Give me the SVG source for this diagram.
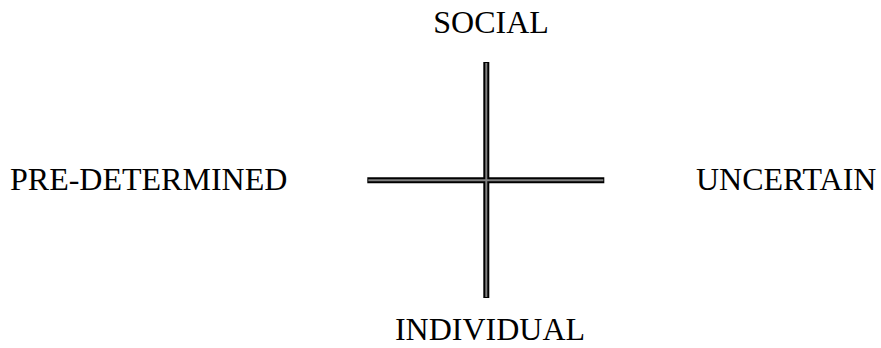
<svg xmlns="http://www.w3.org/2000/svg" width="881" height="348" viewBox="0 0 881 348">
<style>
.lbl{font-family:"Liberation Serif","Times New Roman",serif;font-size:32px;fill:#000}
.outer{stroke:#000;stroke-width:6;fill:none}
.inner{stroke:#808080;stroke-width:2;fill:none}
</style>
<rect width="881" height="348" fill="#fff"/>
<g id="connectors">
<line class="outer" x1="486.3" y1="62" x2="486.3" y2="298"/>
<line class="outer" x1="367.3" y1="180.3" x2="604.3" y2="180.3"/>
<line class="inner" x1="486.3" y1="63" x2="486.3" y2="297"/>
<line class="inner" x1="368.3" y1="180.3" x2="603.3" y2="180.3"/>
</g>
<g id="social"><text class="lbl" x="491" y="33" text-anchor="middle">SOCIAL</text></g>
<g id="individual"><text class="lbl" x="490" y="340" text-anchor="middle">INDIVIDUAL</text></g>
<g id="predetermined"><text class="lbl" x="10" y="190">PRE-DETERMINED</text></g>
<g id="uncertain"><text class="lbl" x="696" y="190">UNCERTAIN</text></g>
</svg>
